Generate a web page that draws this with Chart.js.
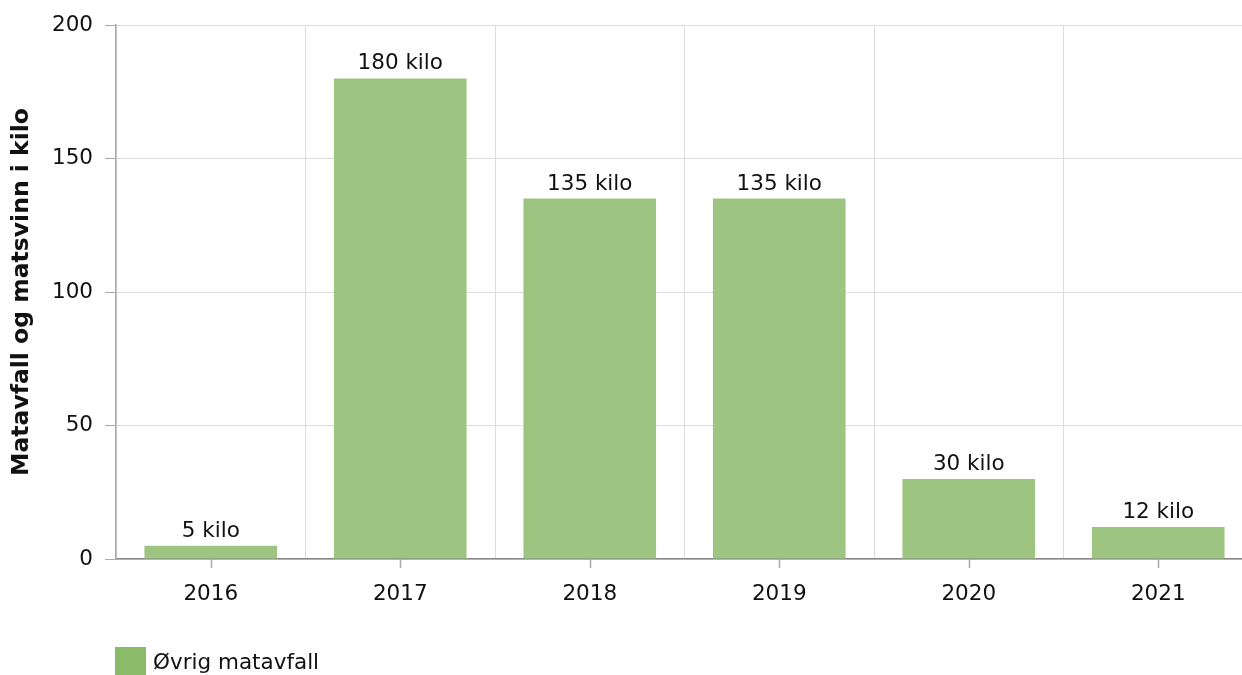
<!DOCTYPE html>
<html>
<head>
<meta charset="utf-8">
<script src="https://cdn.jsdelivr.net/npm/chart.js@4"></script>
<style>
html,body{margin:0;padding:0;background:#fff;overflow:hidden;}
#wrap{position:relative;width:1242px;height:675px;overflow:hidden;}
canvas{display:block;}
</style>
</head>
<body>
<div id="wrap"><canvas id="c" width="1253" height="675"></canvas></div>
<script>
const categories = ['2016', '2017', '2018', '2019', '2020', '2021'];
const values = [5, 180, 135, 135, 30, 12];
const seriesName = 'Øvrig matavfall';
const yTitle = 'Matavfall og matsvinn i kilo';
const yTicks = [0, 50, 100, 150, 200];
const unit = ' kilo';

const FONT = "'DejaVu Sans', Verdana, sans-serif";
const FS = 21.5;
const BAR = '#9dc581';
const LEGEND = '#89bb68';

const valueLabels = {
  id: 'valueLabels',
  afterDatasetsDraw(chart) {
    const ctx = chart.ctx;
    const meta = chart.getDatasetMeta(0);
    ctx.save();
    ctx.font = FS + 'px ' + FONT;
    ctx.fillStyle = '#111';
    ctx.textAlign = 'center';
    ctx.textBaseline = 'alphabetic';
    meta.data.forEach((el, i) => {
      ctx.fillText(chart.data.datasets[0].data[i] + unit, el.x, el.y - 9);
    });
    ctx.restore();
  }
};

const centerTicks = {
  id: 'centerTicks',
  afterDraw(chart) {
    const ctx = chart.ctx;
    const xs = chart.scales.x;
    ctx.save();
    ctx.strokeStyle = '#aaaaaa';
    ctx.lineWidth = 1.5;
    for (let i = 0; i < xs.ticks.length; i++) {
      const px = Math.round(xs.getPixelForTick(i)) + 0.5;
      ctx.beginPath();
      ctx.moveTo(px, xs.top);
      ctx.lineTo(px, xs.top + 9);
      ctx.stroke();
    }
    // legend
    ctx.fillStyle = LEGEND;
    ctx.fillRect(115, 647, 31, 30);
    ctx.fillStyle = '#111';
    ctx.font = FS + 'px ' + FONT;
    ctx.textAlign = 'left';
    ctx.textBaseline = 'middle';
    ctx.fillText(chart.data.datasets[0].label, 153, 663);
    ctx.restore();
  }
};

new Chart(document.getElementById('c'), {
  type: 'bar',
  data: {
    labels: categories,
    datasets: [{
      label: seriesName,
      data: values,
      backgroundColor: BAR,
      borderWidth: 0,
      categoryPercentage: 0.70,
      barPercentage: 1.0
    }]
  },
  options: {
    responsive: false,
    animation: false,
    events: [],
    layout: { padding: { top: 25, right: 0, bottom: 0, left: 0 } },
    plugins: { legend: { display: false }, tooltip: { enabled: false } },
    scales: {
      x: {
        offset: true,
        afterFit(s) { s.height = 116; },
        grid: { offset: true, color: '#dddddd', lineWidth: 1, drawTicks: false },
        border: { color: '#888888', width: 1.5 },
        ticks: { color: '#111', font: { family: FONT, size: FS }, padding: 23 }
      },
      y: {
        min: 0, max: 200,
        afterFit(s) { s.width = 116; },
        afterBuildTicks(s) { s.ticks = yTicks.map(v => ({ value: v })); },
        grid: { color: '#dddddd', lineWidth: 1, tickLength: 11, tickColor: '#aaaaaa' },
        border: { color: '#aaaaaa', width: 1.5 },
        ticks: { color: '#111', font: { family: FONT, size: FS }, padding: 12 },
        title: {
          display: true, text: yTitle, color: '#111',
          font: { family: FONT, size: 23.5, weight: 'bold' },
          padding: { top: 8, bottom: 0 }
        }
      }
    }
  },
  plugins: [valueLabels, centerTicks]
});
</script>
</body>
</html>
